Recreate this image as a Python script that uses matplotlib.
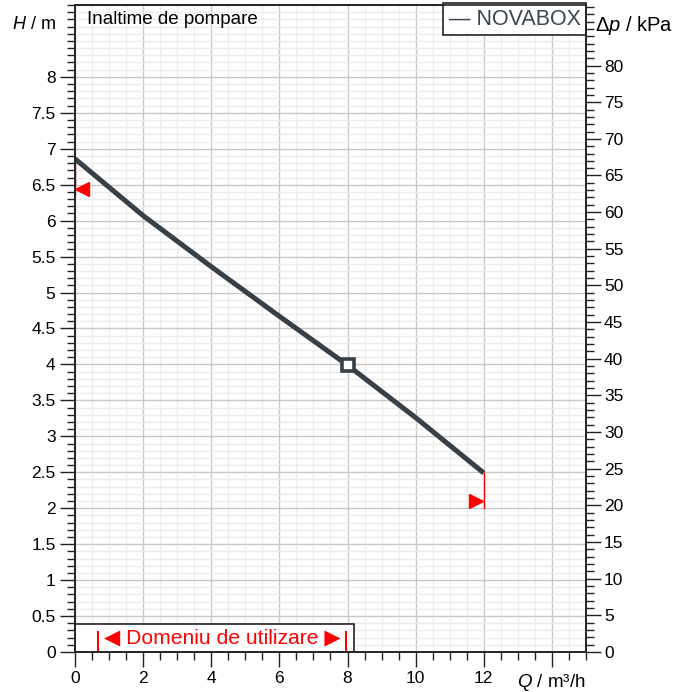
import matplotlib
matplotlib.use("Agg")
import matplotlib.pyplot as plt
from matplotlib.patches import Rectangle
from matplotlib.ticker import MultipleLocator

plt.rcParams['font.family'] = ['Liberation Sans', 'DejaVu Sans']
plt.rcParams['mathtext.fontset'] = 'custom'
plt.rcParams['mathtext.rm'] = 'Liberation Sans'
plt.rcParams['mathtext.it'] = 'Liberation Sans:italic'

# pump curve (Q in m3/h, H in m)
q_vals = [0, 2, 4, 6, 8, 10, 12]
h_vals = [6.86, 6.07, 5.36, 4.67, 3.99, 3.26, 2.49]
duty_q, duty_h = 8, 3.99
series_name = 'NOVABOX'
range_min, range_max = 0.68, 7.97

line_col = '#373f47'
red = '#ff0000'
blk = '#222222'

fig = plt.figure(figsize=(6.86, 6.92), dpi=100)
ax = fig.add_axes([0.1093, 0.0578, 0.7449, 0.935])
ax.set_xlim(0, 15)
ax.set_ylim(0, 9)

ax.xaxis.set_major_locator(MultipleLocator(2))
ax.xaxis.set_minor_locator(MultipleLocator(0.5))
ax.yaxis.set_major_locator(MultipleLocator(0.5))
ax.yaxis.set_minor_locator(MultipleLocator(0.1))
ax.grid(which='major', color='#c8c8c8', lw=1)
ax.grid(which='minor', color='#ececec', lw=1)
ax.set_axisbelow(True)

ax.set_xticks([0, 2, 4, 6, 8, 10, 12, 14])
ax.set_xticklabels(['0', '2', '4', '6', '8', '10', '12', ''])
ax.set_yticks([i * 0.5 for i in range(17)])
ax.set_yticklabels(['%g' % (i * 0.5) for i in range(17)])
ax.tick_params(which='major', length=11, width=1, labelsize=12.5, color=blk, pad=3)
ax.tick_params(which='minor', length=6, width=1, color=blk)
for s in ax.spines.values():
    s.set_color(blk)
    s.set_linewidth(1.2)

# curve
ax.plot(q_vals, h_vals, color=line_col, lw=3.6, solid_capstyle='butt', zorder=5)
ax.plot([duty_q], [duty_h], marker='s', ms=8, mfc='white', mec=line_col, mew=2.6, zorder=6)

# limit marks
ax.plot([0, 0], [h_vals[0], 6.35], color='#a00000', lw=1, zorder=4)
ax.plot([0.2], [6.44], marker='<', ms=10, color=red, zorder=6)
ax.plot([12, 12], [h_vals[-1], 2.0], color=red, lw=1, zorder=4)
ax.plot([11.77], [2.1], marker='>', ms=10, color=red, zorder=6)

# operating range box
ax.add_patch(Rectangle((0, 0), 8.18, 0.39, facecolor='white', edgecolor=blk,
                       lw=1.2, zorder=7, clip_on=False))
ax.plot([range_min, range_min], [0, 0.28], color=red, lw=1.5, zorder=8)
ax.plot([range_max, range_max], [0, 0.28], color=red, lw=1.5, zorder=8)
ax.text(4.33, 0.2, '\u25c0 Domeniu de utilizare \u25b6', color=red, fontsize=15.2,
        ha='center', va='center', zorder=9)

ax.text(0.36, 8.74, 'Inaltime de pompare', fontsize=13.5, ha='left', va='baseline', zorder=9)
ax.text(0.99, 0.978, '\u2014 ' + series_name, transform=ax.transAxes, fontsize=15.5,
        color='#3b4550', ha='right', va='center', zorder=10,
        bbox=dict(boxstyle='square,pad=0.25', fc='white', ec=blk, lw=1.2))

# labels
fig.text(0.017, 0.965, r'$\mathit{H}$ / m', fontsize=13, ha='left', va='center')
fig.text(0.867, 0.963, r'$\Delta\mathit{p}$ / kPa', fontsize=14.5, ha='left', va='center')
ax.text(12.98, -0.43, r'$\mathit{Q}$ / m³/h', fontsize=13.5, ha='left', va='center')

# right axis in kPa
ax2 = ax.twinx()
ax2.set_ylim(0, 9 * 9.80665)
ax2.yaxis.set_minor_locator(MultipleLocator(1))
ax2.set_yticks(list(range(0, 85, 5)))
ax2.tick_params(which='major', length=11, width=1, labelsize=12.5, color=blk, pad=2)
ax2.tick_params(which='minor', length=6, width=1, color=blk)
for s in ax2.spines.values():
    s.set_color(blk)
    s.set_linewidth(1.2)

fig.savefig('out.png', dpi=100)
